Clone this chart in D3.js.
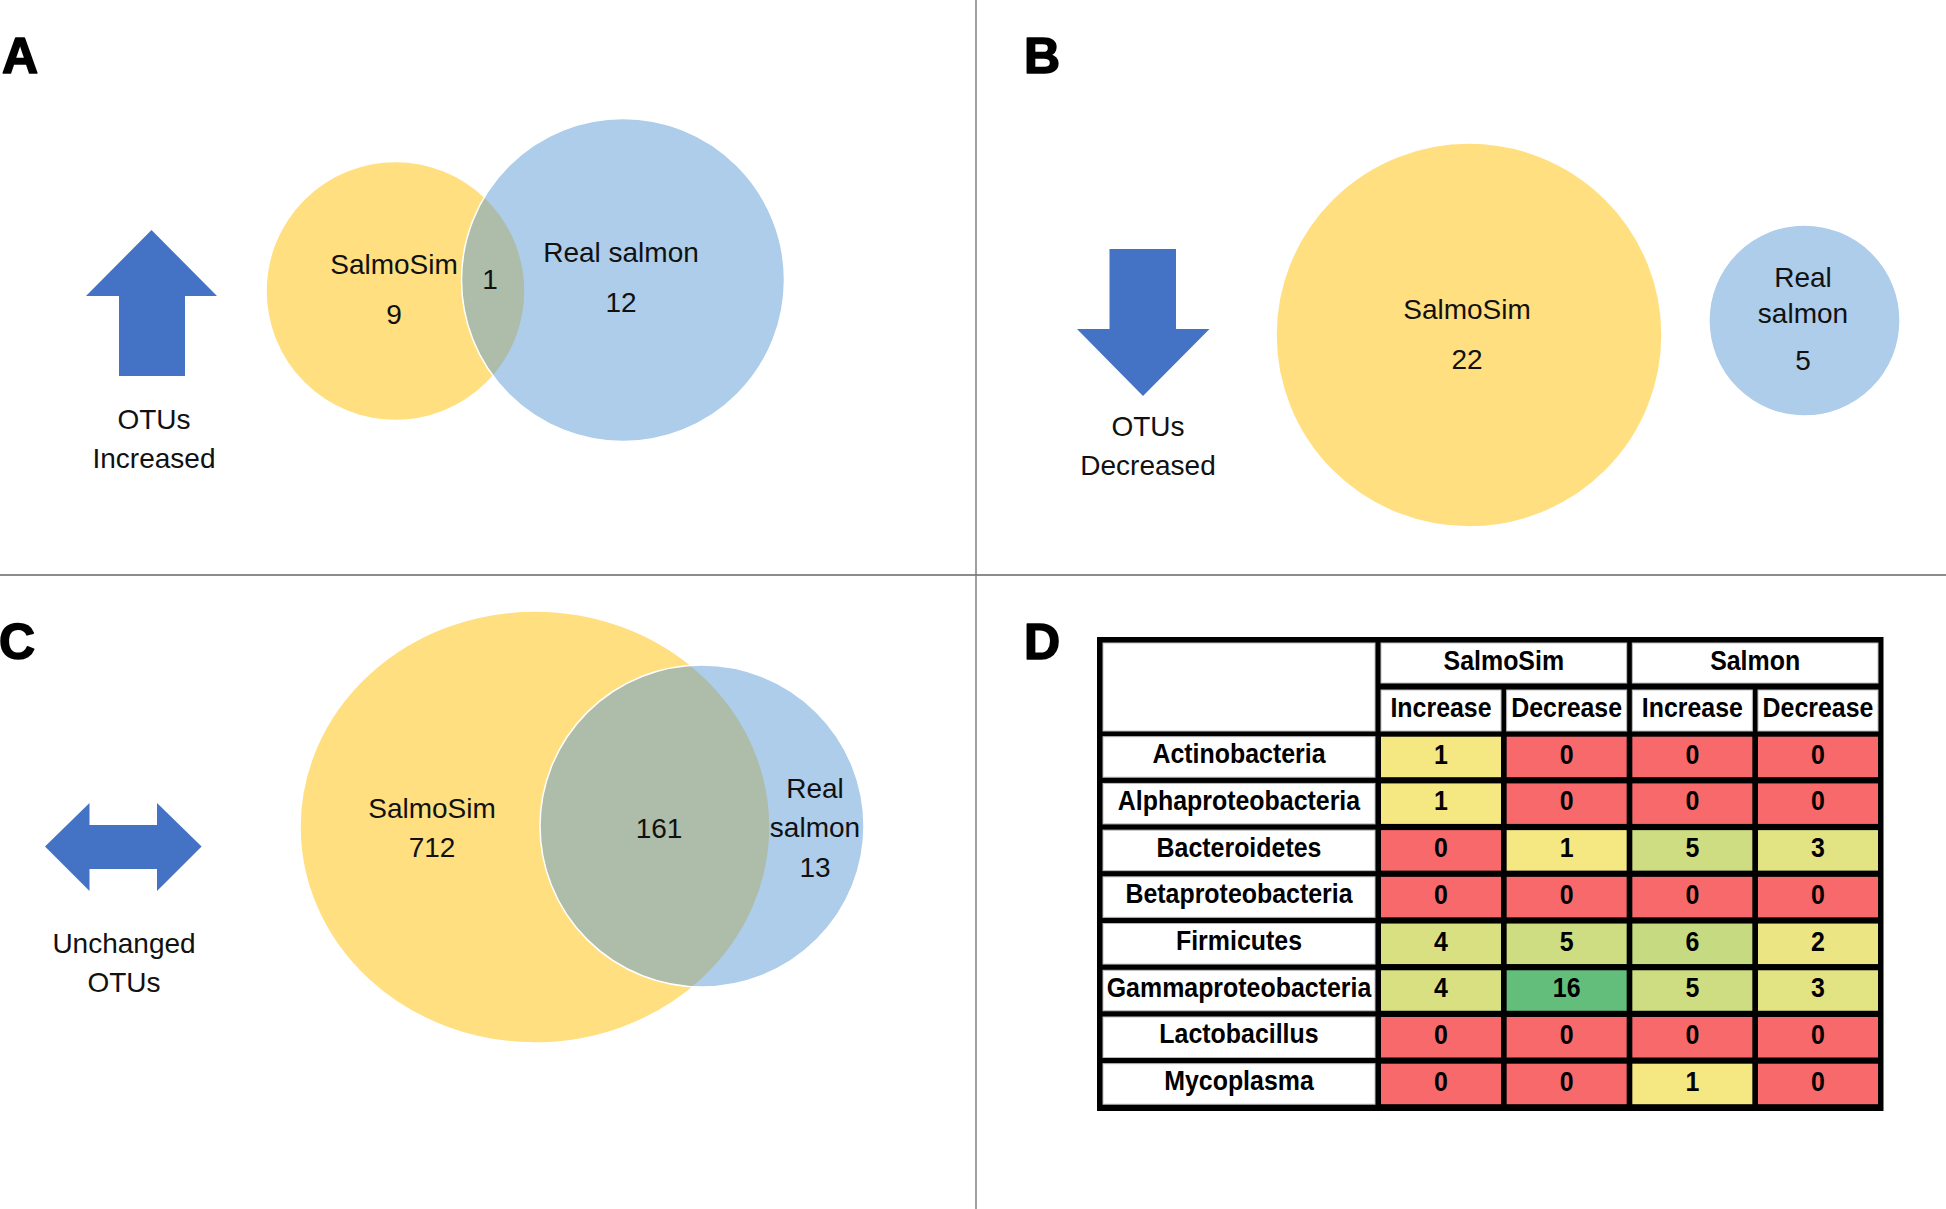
<!DOCTYPE html>
<html>
<head>
<meta charset="utf-8">
<script src="https://cdn.jsdelivr.net/npm/d3@7"></script>
<style>
  html, body { margin: 0; padding: 0; background: #fff; }
  svg { display: block; }
</style>
</head>
<body>
<svg id="chart" width="1946" height="1209"></svg>
<script>
// ---------------- DATA ----------------
const panelLetters = ["A", "B", "C", "D"];
const setNames = ["SalmoSim", "Real salmon"];
// [SalmoSim only, shared, Real salmon only]
const increasedCounts = [9, 1, 12];
const decreasedCounts = [22, 0, 5];
const unchangedCounts = [712, 161, 13];
const arrowLabels = [["OTUs", "Increased"], ["OTUs", "Decreased"], ["Unchanged", "OTUs"]];

const taxa = ["Actinobacteria", "Alphaproteobacteria", "Bacteroidetes", "Betaproteobacteria",
              "Firmicutes", "Gammaproteobacteria", "Lactobacillus", "Mycoplasma"];
const groupNames = ["SalmoSim", "Salmon"];
const directionNames = ["Increase", "Decrease"];
const salmoSimIncrease = [1, 1, 0, 0, 4, 4, 0, 0];
const salmoSimDecrease = [0, 0, 1, 0, 5, 16, 0, 0];
const salmonIncrease   = [0, 0, 5, 0, 6, 5, 0, 1];
const salmonDecrease   = [0, 0, 3, 0, 2, 3, 0, 0];

// ---------------- SETUP ----------------
const svg = d3.select("#chart");
const FONT = "'Liberation Sans', Arial, sans-serif";
const YELLOW = "#FFC000", BLUE = "#5B9BD5", ARROW = "#4472C4";

// dividers
svg.append("line").attr("x1", 0).attr("x2", 1946).attr("y1", 575).attr("y2", 575)
  .attr("stroke", "#8c8c8c").attr("stroke-width", 2.2);
svg.append("line").attr("x1", 976).attr("x2", 976).attr("y1", 0).attr("y2", 1209)
  .attr("stroke", "#777").attr("stroke-width", 1.4);

// panel letters
const letterPos = [[2, 73], [1024, 73], [-1, 659], [1024, 659]];
svg.selectAll("text.letter").data(panelLetters).join("text")
  .attr("class", "letter")
  .attr("x", (d, i) => letterPos[i][0]).attr("y", (d, i) => letterPos[i][1])
  .attr("font-family", FONT).attr("font-weight", 900).attr("font-size", 50)
  .attr("fill", "#000").attr("stroke", "#000").attr("stroke-width", 1.6)
  .attr("stroke-linejoin", "round").text(d => d);

function poly(points) { return d3.line()(points) + "Z"; }

function arrowText(lines, cx, y0, dy) {
  svg.append("g").selectAll("text").data(lines).join("text")
    .attr("x", cx).attr("y", (d, i) => y0 + i * dy)
    .attr("text-anchor", "middle").attr("font-family", FONT).attr("font-size", 28)
    .attr("fill", "#111").text(d => d);
}

function ellipse(cx, cy, rx, ry, color) {
  svg.append("ellipse").attr("cx", cx).attr("cy", cy).attr("rx", rx).attr("ry", ry)
    .attr("fill", color).attr("fill-opacity", 0.5)
    .attr("stroke", "#fff").attr("stroke-width", 1.5);
}

function label(txt, x, y) {
  svg.append("text").attr("x", x).attr("y", y).attr("text-anchor", "middle")
    .attr("font-family", FONT).attr("font-size", 28).attr("fill", "#111").text(txt);
}

// ---------------- PANEL A ----------------
svg.append("path").attr("fill", ARROW).attr("d", poly([
  [151.5, 230], [217, 296], [185, 296], [185, 376], [119, 376], [119, 296], [86, 296]]));
arrowText(arrowLabels[0], 154, 429, 39);
ellipse(395.5, 291, 129.5, 129.5, YELLOW);
ellipse(623, 280, 161.5, 161.5, BLUE);
label(setNames[0], 394, 274);
label(increasedCounts[0], 394, 324);
label(increasedCounts[1], 490, 289);
label(setNames[1], 621, 262);
label(increasedCounts[2], 621, 312);

// ---------------- PANEL B ----------------
svg.append("path").attr("fill", ARROW).attr("d", poly([
  [1109.5, 249], [1176, 249], [1176, 329], [1209.5, 329], [1143, 396], [1077, 329], [1109.5, 329]]));
arrowText(arrowLabels[1], 1148, 436, 39);
ellipse(1469, 335, 193, 192, YELLOW);
ellipse(1804.5, 320.5, 95.6, 95.6, BLUE);
label(setNames[0], 1467, 319);
label(decreasedCounts[0], 1467, 369);
label("Real", 1803, 287);
label("salmon", 1803, 323);
label(decreasedCounts[2], 1803, 370);

// ---------------- PANEL C ----------------
svg.append("path").attr("fill", ARROW).attr("d", poly([
  [45, 846.5], [89.5, 803], [89.5, 825], [157, 825], [157, 803], [201.6, 846.5],
  [157, 891], [157, 869], [89.5, 869], [89.5, 891]]));
arrowText(arrowLabels[2], 124, 953, 39);
ellipse(535, 827, 235, 216, YELLOW);
ellipse(702, 826, 162, 161, BLUE);
label(setNames[0], 432, 818);
label(unchangedCounts[0], 432, 857);
label(unchangedCounts[1], 659, 838);
label("Real", 815, 798);
label("salmon", 815, 837);
label(unchangedCounts[2], 815, 877);

// ---------------- PANEL D (table) ----------------
const columns = [salmoSimIncrease, salmoSimDecrease, salmonIncrease, salmonDecrease];
const colKeys = d3.range(columns.length);
const x = d3.scaleBand().domain(colKeys).range([1381, 1878]).paddingInner(0.045).paddingOuter(0);
const y = d3.scaleBand().domain(taxa).range([736.7, 1104.2]).paddingInner(0.133).paddingOuter(0);
const nonZero = d3.scaleLinear().domain([0, 16]).range(["#FFEB84", "#63BE7B"]);
const cellColor = v => v === 0 ? "#F8696B" : nonZero(v);
const TFS = 28;

const T = svg.append("g");
const labelX0 = 1103, labelX1 = 1375;
// black frame / grid background
T.append("rect").attr("x", 1097).attr("y", 637).attr("width", 1883.5 - 1097).attr("height", 1111 - 637)
  .attr("fill", "#000");
// header label cell (blank)
T.append("rect").attr("x", labelX0).attr("y", 643).attr("width", labelX1 - labelX0).attr("height", 731 - 643)
  .attr("fill", "#fff").attr("stroke", "#bbb").attr("stroke-width", 1);
// group header cells
groupNames.forEach((g, gi) => {
  const gx0 = x(gi * 2), gx1 = x(gi * 2 + 1) + x.bandwidth();
  T.append("rect").attr("x", gx0).attr("y", 643).attr("width", gx1 - gx0).attr("height", 40)
    .attr("fill", "#fff").attr("stroke", "#bbb").attr("stroke-width", 1);
  T.append("text").attr("class", "tt").attr("x", (gx0 + gx1) / 2).attr("y", 670).attr("text-anchor", "middle")
    .attr("font-family", FONT).attr("font-weight", "bold").attr("font-size", TFS).text(g);
});
// sub-header cells
colKeys.forEach(c => {
  T.append("rect").attr("x", x(c)).attr("y", 690).attr("width", x.bandwidth()).attr("height", 41)
    .attr("fill", "#fff").attr("stroke", "#bbb").attr("stroke-width", 1);
  T.append("text").attr("class", "tt").attr("x", x(c) + x.bandwidth() / 2).attr("y", 717).attr("text-anchor", "middle")
    .attr("font-family", FONT).attr("font-weight", "bold").attr("font-size", TFS)
    .text(directionNames[c % 2]);
});
// row label cells
const rows = T.selectAll("g.row").data(taxa).join("g").attr("class", "row");
rows.append("rect").attr("x", labelX0).attr("y", d => y(d)).attr("width", labelX1 - labelX0)
  .attr("height", y.bandwidth()).attr("fill", "#fff").attr("stroke", "#bbb").attr("stroke-width", 1);
rows.append("text").attr("class", "tt").attr("x", (labelX0 + labelX1) / 2).attr("y", d => y(d) + 26.5)
  .attr("text-anchor", "middle").attr("font-family", FONT).attr("font-weight", "bold")
  .attr("font-size", TFS).text(d => d);
// value cells
const cells = [];
taxa.forEach((t, r) => colKeys.forEach(c => cells.push({ t, c, v: columns[c][r] })));
const cg = T.selectAll("g.cell").data(cells).join("g").attr("class", "cell");
cg.append("rect").attr("x", d => x(d.c)).attr("y", d => y(d.t)).attr("width", x.bandwidth())
  .attr("height", y.bandwidth()).attr("fill", d => cellColor(d.v));
cg.append("text").attr("class", "tt").attr("x", d => x(d.c) + x.bandwidth() / 2).attr("y", d => y(d.t) + 27)
  .attr("text-anchor", "middle").attr("font-family", FONT).attr("font-weight", "bold")
  .attr("font-size", TFS).text(d => d.v);

// condense table text horizontally (narrow bold look)
T.selectAll("text.tt").each(function () {
  const w = this.getComputedTextLength();
  d3.select(this).attr("textLength", w * 0.89).attr("lengthAdjust", "spacingAndGlyphs");
});
</script>
</body>
</html>
